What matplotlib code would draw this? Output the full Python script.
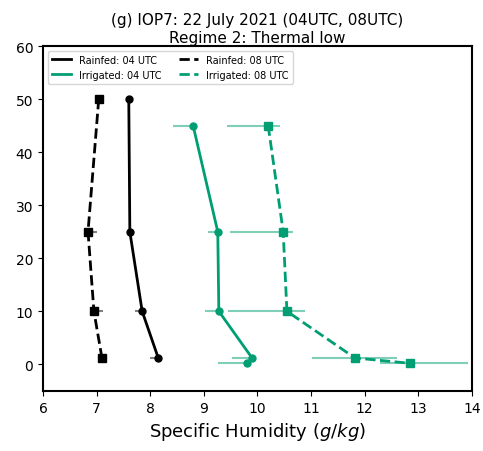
import numpy as np
import matplotlib.pyplot as plt
from matplotlib.lines import Line2D

green = '#009E73'

# heights (m) and specific humidity (g/kg)
rain04_z = [50, 25, 10, 1.2]
rain04_q = [7.60, 7.62, 7.85, 8.15]
rain04_lo = [0.0, 0.0, 0.13, 0.15]
rain04_hi = [0.0, 0.0, 0.0, 0.0]

rain08_z = [50, 25, 10, 1.2]
rain08_q = [7.04, 6.84, 6.95, 7.10]
rain08_lo = [0.0, 0.0, 0.0, 0.0]
rain08_hi = [0.10, 0.16, 0.17, 0.10]

irr04_z = [45, 25, 10, 1.2, 0.2]
irr04_q = [8.80, 9.26, 9.28, 9.90, 9.81]
irr04_lo = [0.37, 0.18, 0.26, 0.38, 0.55]
irr04_hi = [0.0, 0.08, 0.0, 0.0, 0.0]

irr08_z = [45, 25, 10, 1.2, 0.2]
irr08_q = [10.20, 10.48, 10.55, 11.82, 12.85]
irr08_lo = [0.77, 0.99, 1.10, 0.80, 0.56]
irr08_hi = [0.22, 0.18, 0.34, 0.78, 1.08]

fig = plt.figure(figsize=(4.83, 4.52), dpi=100)
ax = fig.add_axes([0.089, 0.133, 0.888, 0.763])

light_green = (0, 0.62, 0.45, 0.5)
ax.errorbar(rain04_q, rain04_z, xerr=[rain04_lo, rain04_hi], color='black', ls='-', marker='o',
            ms=5, lw=2, ecolor='gray', elinewidth=1.5)
ax.errorbar(irr04_q, irr04_z, xerr=[irr04_lo, irr04_hi], color=green, ls='-', marker='o',
            ms=5, lw=2, ecolor=light_green, elinewidth=1.5)
ax.errorbar(rain08_q, rain08_z, xerr=[rain08_lo, rain08_hi], color='black', ls='--', marker='s',
            ms=6, lw=2, ecolor='gray', elinewidth=1.5)
ax.errorbar(irr08_q, irr08_z, xerr=[irr08_lo, irr08_hi], color=green, ls='--', marker='s',
            ms=6, lw=2, ecolor=light_green, elinewidth=1.5)

ax.set_xlim(6, 14)
ax.set_ylim(-5, 60)
ax.set_xticks(np.arange(6, 15, 1))
ax.set_yticks(np.arange(0, 70, 10))
ax.tick_params(labelsize=10)
for s in ax.spines.values():
    s.set_linewidth(1.5)

ax.set_xlabel('Specific Humidity ($g/kg$)', fontsize=13)
ax.set_title('(g) IOP7: 22 July 2021 (04UTC, 08UTC)\nRegime 2: Thermal low', fontsize=11, pad=3)

handles = [Line2D([], [], color='black', ls='-', lw=2),
           Line2D([], [], color=green, ls='-', lw=2),
           Line2D([], [], color='black', ls='--', lw=2),
           Line2D([], [], color=green, ls='--', lw=2)]
labels = ['Rainfed: 04 UTC', 'Irrigated: 04 UTC', 'Rainfed: 08 UTC', 'Irrigated: 08 UTC']
ax.legend(handles, labels, loc='upper left', ncol=2, fontsize=7,
          handlelength=2.0, columnspacing=1.8, borderpad=0.4)

fig.savefig('out.png', dpi=100)
